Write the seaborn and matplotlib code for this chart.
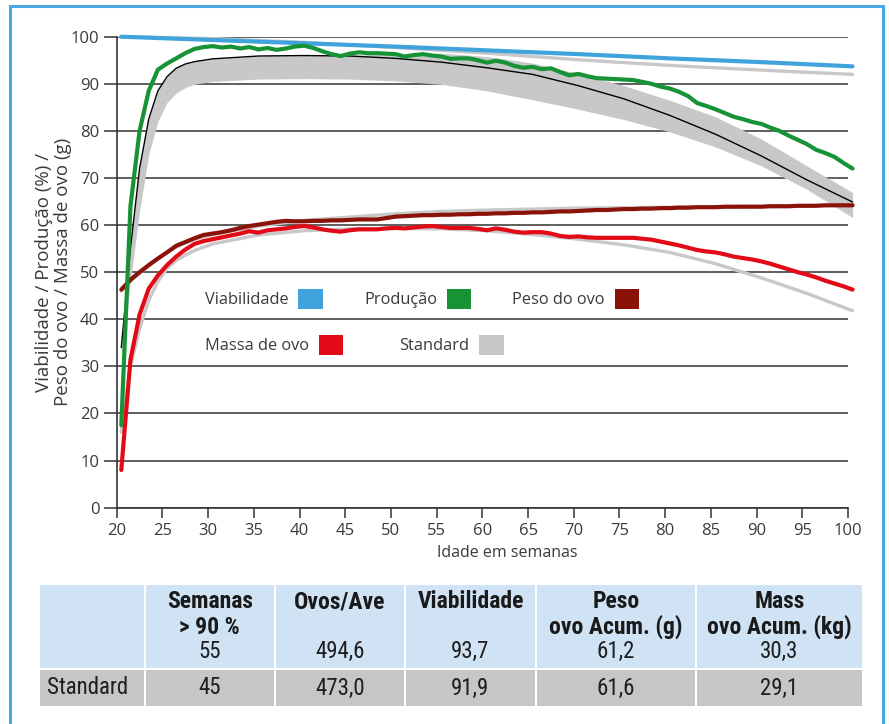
import numpy as np
import seaborn as sns
import matplotlib.pyplot as plt
from matplotlib import font_manager
from matplotlib.patches import Patch, Rectangle

# idade (semanas) dos dados semanais do lote
semanas = np.arange(20.5, 101, 1.0)

producao = [17.5, 64, 80, 88.5, 93, 94.3, 95.4, 96.5, 97.4, 97.8,
            98.0, 97.7, 97.9, 97.5, 97.8, 97.3, 97.6, 97.2, 97.5, 97.9,
            98.1, 97.6, 96.9, 96.3, 95.9, 96.4, 96.7, 96.5, 96.5, 96.4,
            96.3, 95.8, 96.1, 96.3, 96.0, 95.8, 95.3, 95.4, 95.4, 95.0,
            94.5, 94.9, 94.5, 93.8, 93.4, 93.6, 93.1, 93.3, 92.5, 91.8,
            92.1, 91.6, 91.2, 91.1, 91.0, 90.9, 90.8, 90.4, 90.0, 89.4,
            89.0, 88.3, 87.4, 85.9, 85.3, 84.6, 83.8, 83.0, 82.5, 81.9,
            81.5, 80.7, 80.0, 79.0, 78.1, 77.2, 76.0, 75.3, 74.5, 73.2,
            72.0]

massa_ovo = [8.0, 31.4, 41.0, 46.5, 49.3, 51.5, 53.3, 54.8, 56.0, 56.6,
             57.0, 57.4, 57.8, 58.2, 58.7, 58.4, 58.9, 59.1, 59.3, 59.6,
             59.8, 59.5, 59.1, 58.8, 58.6, 58.9, 59.1, 59.1, 59.1, 59.3,
             59.4, 59.3, 59.5, 59.7, 59.8, 59.6, 59.4, 59.4, 59.4, 59.2,
             58.9, 59.3, 59.0, 58.6, 58.4, 58.5, 58.5, 58.2, 57.7, 57.5,
             57.6, 57.4, 57.3, 57.3, 57.3, 57.3, 57.3, 57.1, 56.9, 56.5,
             56.1, 55.7, 55.2, 54.7, 54.4, 54.2, 53.8, 53.3, 53.0, 52.7,
             52.3, 51.8, 51.2, 50.6, 50.0, 49.5, 48.9, 48.2, 47.6, 47.0,
             46.3]

peso_ovo = [46.3, 48.4, 50.0, 51.5, 52.9, 54.2, 55.6, 56.4, 57.2, 57.9,
            58.2, 58.5, 58.9, 59.4, 59.8, 60.1, 60.4, 60.7, 60.9, 60.8,
            60.8, 60.9, 60.9, 61.0, 61.0, 61.1, 61.2, 61.2, 61.2, 61.5,
            61.8, 61.9, 62.0, 62.1, 62.1, 62.2, 62.2, 62.3, 62.3, 62.4,
            62.4, 62.5, 62.5, 62.6, 62.6, 62.7, 62.7, 62.8, 62.9, 62.9,
            63.0, 63.1, 63.2, 63.2, 63.3, 63.4, 63.4, 63.5, 63.5, 63.6,
            63.6, 63.7, 63.7, 63.8, 63.8, 63.8, 63.9, 63.9, 63.9, 63.9,
            63.9, 64.0, 64.0, 64.0, 64.1, 64.1, 64.1, 64.2, 64.2, 64.2,
            64.2]

# viabilidade (lote e standard)
viab_x = [20.5, 30.5, 40.5, 50.5, 60.5, 70.5, 80.5, 90.5, 100.5]
viabilidade = [100, 99.3, 98.6, 97.9, 97.1, 96.3, 95.4, 94.6, 93.7]
std_viabilidade = [100, 99.6, 98.8, 97.7, 96.5, 95.1, 93.9, 92.9, 92.0]

# curvas standard
std_x = [20.5, 21.5, 22.5, 23.5, 24.5, 25.5, 26.5, 27.5, 28.5, 30.5, 35.5, 40.5,
         45.5, 50.5, 55.5, 60.5, 65.5, 70.5, 75.5, 80.5, 85.5, 90.5, 95.5, 100.5]
std_producao = [34, 55, 72, 82.5, 88.5, 91.5, 93.3, 94.2, 94.7, 95.3, 95.9, 96.0,
                95.9, 95.4, 94.6, 93.4, 92.0, 89.6, 86.8, 83.3, 79.3, 74.7, 69.6, 64.9]
std_prod_min = [32, 48, 63, 75, 82, 86, 88, 89.2, 89.9, 90.5, 91.0, 91.1,
                91.0, 90.6, 89.9, 88.5, 86.6, 84.6, 82.4, 79.8, 76.6, 72.6, 67.6, 61.6]
std_prod_max = [34, 55, 72, 82.5, 88.5, 91.5, 93.3, 94.2, 94.7, 95.3, 95.9, 96.0,
                96.1, 96.2, 96.5, 95.8, 94.4, 92.2, 89.6, 86.5, 83.0, 78.3, 72.6, 66.9]
std_peso = [46.0, 48.0, 49.8, 51.4, 52.9, 54.2, 55.3, 56.2, 57.0, 58.0, 59.8, 61.0,
            61.7, 62.4, 62.9, 63.2, 63.4, 63.6, 63.7, 63.8, 63.9, 64.0, 64.1, 64.3]
std_massa = [16, 30, 38, 44, 48, 50.8, 52.5, 53.6, 54.6, 56.0, 57.9, 58.8,
             59.2, 59.3, 59.2, 58.8, 58.0, 57.0, 55.8, 54.2, 51.8, 48.8, 45.5, 41.8]

legenda_1 = ["Viabilidade", "Produção", "Peso do ovo"]
cores_1 = ["#41a3dc", "#179336", "#8b1208"]
legenda_2 = ["Massa de ovo", "Standard"]
cores_2 = ["#e30a17", "#c6c6c6"]

# tabela
tab_cols = ["", "Semanas\n> 90 %", "Ovos/Ave", "Viabilidade",
            "Peso\novo Acum. (g)", "Mass\novo Acum. (kg)"]
tab_lote = ["", "55", "494,6", "93,7", "61,2", "30,3"]
tab_std = ["Standard", "45", "473,0", "91,9", "61,6", "29,1"]


# fontes
def pesos_de(nome):
    out = set()
    for f in font_manager.fontManager.ttflist:
        if f.name == nome:
            w = f.weight
            if isinstance(w, str):
                w = font_manager.weight_dict.get(w, 400)
            out.add(int(w))
    return out


nomes = {f.name for f in font_manager.fontManager.ttflist}
fonte = next((n for n in ["Open Sans", "Noto Sans", "Lato"] if n in nomes), "DejaVu Sans")
condensadas = ["Liberation Sans Narrow", "Roboto Condensed", "Open Sans Condensed",
               "Noto Sans Condensed", "DejaVu Sans Condensed"]
fonte_bold = next((n for n in condensadas if any(w >= 600 for w in pesos_de(n))), fonte)
fonte_reg = next((n for n in condensadas if any(350 <= w <= 450 for w in pesos_de(n))), None)
tam_bold, tam_reg = 17, 16.5
if fonte_reg is None:
    fonte_reg = "Lato" if "Lato" in nomes else fonte
    tam_reg = 14

sns.set_style("ticks")
plt.rcParams["font.family"] = [fonte, "DejaVu Sans"]
cinza_txt = "#3a3a3a"

fig = plt.figure(figsize=(8.89, 7.24), dpi=100)
ax = fig.add_axes([0.1313, 0.2988, 0.8226, 0.6505])

# faixa standard de produção
ax.fill_between(std_x, std_prod_min, std_prod_max, color="#c8c8c8", linewidth=0,
                clip_on=False, zorder=2)

# linhas standard
sns.lineplot(x=viab_x, y=std_viabilidade, color="#c8c8c8", linewidth=2.4, ax=ax,
             clip_on=False, zorder=3)
for y in [std_peso, std_massa]:
    sns.lineplot(x=std_x, y=y, color="#c8c8c8", linewidth=2.4, ax=ax,
                 clip_on=False, zorder=3)
sns.lineplot(x=std_x, y=std_producao, color="black", linewidth=1.0, ax=ax,
             clip_on=False, zorder=4)

# linhas do lote
sns.lineplot(x=viab_x, y=viabilidade, color=cores_1[0], linewidth=3.0, ax=ax,
             clip_on=False, zorder=5)
sns.lineplot(x=semanas, y=peso_ovo, color=cores_1[2], linewidth=3.0, ax=ax,
             clip_on=False, zorder=5)
sns.lineplot(x=semanas, y=massa_ovo, color=cores_2[0], linewidth=3.0, ax=ax,
             clip_on=False, zorder=5)
sns.lineplot(x=semanas, y=producao, color=cores_1[1], linewidth=3.0, ax=ax,
             clip_on=False, zorder=6)

# eixos
ax.set_xlim(20, 100)
ax.set_ylim(0, 100)
ax.set_xticks(range(20, 101, 5))
ax.set_yticks(range(0, 101, 10))
ax.grid(axis="y", color="#333333", linewidth=1.1)
ax.grid(axis="x", visible=False)
ax.set_axisbelow(True)
sns.despine(ax=ax)
for s in ["left", "bottom"]:
    ax.spines[s].set_color("#333333")
    ax.spines[s].set_linewidth(1.2)
ax.tick_params(axis="y", length=9.5, width=1.1, pad=3, color="#333333",
               labelsize=12, labelcolor=cinza_txt)
ax.tick_params(axis="x", length=7.2, width=1.1, pad=3.5, color="#333333",
               labelsize=12, labelcolor=cinza_txt)

ax.set_ylabel("Viabilidade / Produção (%) /\nPeso do ovo / Massa de ovo (g)",
              fontsize=13.5, color=cinza_txt, linespacing=1.1)
ax.yaxis.set_label_coords(-0.061, 0.5)
ax.set_xlabel("Idade em semanas", fontsize=11.5, color=cinza_txt)
ax.xaxis.set_label_coords(0.534, -0.079)

# legenda em duas linhas
opts = dict(markerfirst=False, frameon=False, loc="upper left", borderaxespad=0,
            borderpad=0, handlelength=1.5, handleheight=1.5, handletextpad=0.6,
            fontsize=11.8, labelcolor=cinza_txt)
h1 = [Patch(facecolor=c, edgecolor="none", label=l) for l, c in zip(legenda_1, cores_1)]
leg1 = ax.legend(handles=h1, ncol=3, bbox_to_anchor=(0.1207, 0.465),
                 columnspacing=2.5, **opts)
ax.add_artist(leg1)
h2 = [Patch(facecolor=c, edgecolor="none", label=l) for l, c in zip(legenda_2, cores_2)]
ax.legend(handles=h2, ncol=2, bbox_to_anchor=(0.1207, 0.367),
          columnspacing=3.4, **opts)

# tabela (coordenadas em pixels da figura)
axt = fig.add_axes([0, 0, 1, 1])
axt.set_xlim(0, 889)
axt.set_ylim(724, 0)
axt.axis("off")
col_x = [38.5, 144.6, 275, 405, 536, 696, 862.7]
for j in range(len(tab_cols)):
    x0, x1 = col_x[j] + 1, col_x[j + 1] - 1
    axt.add_patch(Rectangle((x0, 584.5), x1 - x0, 83.5, facecolor="#d0e3f5",
                            edgecolor="none"))
    axt.add_patch(Rectangle((x0, 669.5), x1 - x0, 36.2, facecolor="#c6c6c6",
                            edgecolor="none"))
    xc = (x0 + x1) / 2
    for k, t in enumerate(tab_cols[j].split("\n")):
        axt.text(xc, 602 + 25 * k, t, ha="center", va="center", fontsize=tam_bold,
                 fontweight="bold", family=[fonte_bold, "DejaVu Sans"], color="#1a1a1a")
    axt.text(xc, 651, tab_lote[j], ha="center", va="center", fontsize=tam_reg,
             fontweight="normal", family=[fonte_reg, "DejaVu Sans"], color="#1e1e1e")
    axt.text(xc - (4 if j == 0 else 0), 688, tab_std[j], ha="center", va="center",
             fontsize=tam_reg, fontweight="normal", family=[fonte_reg, "DejaVu Sans"],
             color="#1e1e1e")

# moldura azul
fig.add_artist(Rectangle((10 / 889, -0.02), 873 / 889, 0.9917 + 0.02,
                         transform=fig.transFigure, fill=False,
                         edgecolor="#4aa9e2", linewidth=2.2))

fig.savefig("out.png", dpi=100)
